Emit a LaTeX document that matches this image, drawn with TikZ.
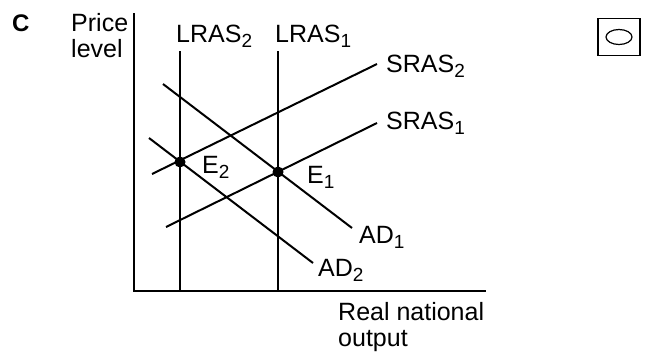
\documentclass[tikz,border=0pt]{standalone}
\usepackage{fontspec}
\setmainfont{Liberation Sans}
\usetikzlibrary{shapes.geometric}
\newcommand{\lsub}[1]{\raisebox{-5pt}{\fontsize{19}{19}\selectfont #1}}
\begin{document}
\begin{tikzpicture}[x=1pt,y=-1pt,
  lbl/.style={anchor=base west,inner sep=0pt,font=\fontsize{25}{26}\selectfont},
  axis/.style={line width=2.4pt},
  curve/.style={line width=2pt},
  eqdot/.style={circle,fill=black,inner sep=0pt,minimum size=11pt}]
\useasboundingbox (0,0) rectangle (661,351);
% axes
\coordinate (ytop) at (134,13);
\coordinate (orig) at (134,291);
\coordinate (xend) at (486,291);
\draw[axis] (ytop) -- (orig) -- (xend);
% LRAS
\coordinate (l2t) at (180,51); \coordinate (l2b) at (180,291);
\coordinate (l1t) at (278,51); \coordinate (l1b) at (278,291);
\draw[curve] (l2t) -- (l2b);
\draw[curve] (l1t) -- (l1b);
% AD
\coordinate (ad1s) at (163,84); \coordinate (ad1e) at (352,228);
\coordinate (ad2s) at (149,138); \coordinate (ad2e) at (313,263);
\draw[curve] (ad1s) -- (ad1e);
\draw[curve] (ad2s) -- (ad2e);
% SRAS
\coordinate (s1s) at (166,227); \coordinate (s1e) at (377,123);
\coordinate (s2s) at (152,174); \coordinate (s2e) at (377,64);
\draw[curve] (s1s) -- (s1e);
\draw[curve] (s2s) -- (s2e);
% equilibria
\node[eqdot] (e2) at (180,162) {};
\node[eqdot] (e1) at (278,172) {};
% labels
\node[anchor=base west,inner sep=0pt,font=\bfseries\fontsize{24}{26}\selectfont] (c) at (12,31) {C};
\node[lbl] (price) at (71,31) {Price};
\node[lbl] (level) at (71,57) {level};
\node[lbl] (lras2) at (176,42) {LRAS\lsub{2}};
\node[lbl] (lras1) at (275,42) {LRAS\lsub{1}};
\node[lbl] (sras2) at (386,72) {SRAS\lsub{2}};
\node[lbl] (sras1) at (386,129) {SRAS\lsub{1}};
\node[lbl] (e2l) at (202,173) {E\lsub{2}};
\node[lbl] (e1l) at (307,183) {E\lsub{1}};
\node[lbl] (ad1l) at (359,243) {AD\lsub{1}};
\node[lbl] (ad2l) at (318,276) {AD\lsub{2}};
\node[lbl] (real) at (338,320) {Real national};
\node[lbl] (output) at (338,346) {output};
% answer box
\node[draw,line width=1.4pt,minimum width=42pt,minimum height=37pt,inner sep=0pt] (box) at (619,37) {};
\node[draw,ellipse,line width=1.2pt,minimum width=26pt,minimum height=15pt,inner sep=0pt] (oval) at (box.center) {};
\end{tikzpicture}
\end{document}
